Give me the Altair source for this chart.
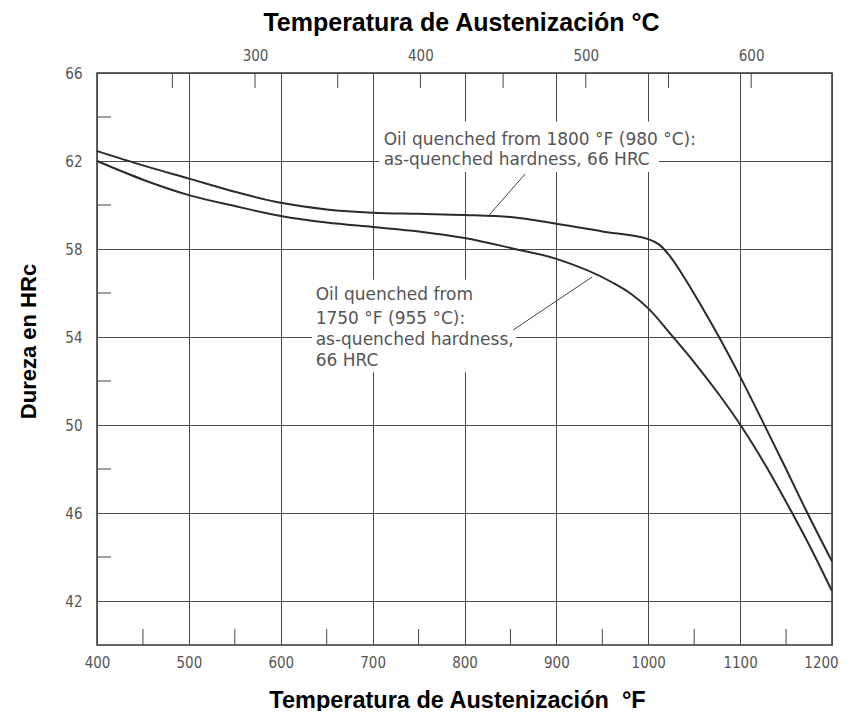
import altair as alt
import pandas as pd

# ---- data ----
upper_temp_f = [400, 450, 500, 550, 600, 650, 700, 750, 800, 850, 900, 950, 1000, 1012, 1025, 1040, 1060, 1079, 1100, 1127, 1150, 1172, 1200]
upper_hrc = [62.45, 61.8, 61.2, 60.6, 60.1, 59.8, 59.65, 59.6, 59.55, 59.45, 59.15, 58.8, 58.45, 58.2, 57.6, 56.65, 55.25, 53.85, 52.2, 49.95, 48.0, 46.1, 43.8]

lower_temp_f = [400, 450, 500, 550, 600, 650, 700, 750, 800, 850, 900, 960, 980, 1000, 1027, 1050, 1075, 1102, 1130, 1154, 1180, 1200]
lower_hrc = [62.0, 61.15, 60.45, 59.95, 59.5, 59.2, 59.0, 58.8, 58.5, 58.05, 57.55, 56.5, 56.0, 55.3, 54.0, 52.85, 51.5, 49.9, 48.0, 46.2, 44.15, 42.45]

series_names = ["1800 °F", "1750 °F"]

x_ticks_f = [400, 500, 600, 700, 800, 900, 1000, 1100, 1200]
x_minor_f = [450, 550, 650, 750, 850, 950, 1050, 1150]
y_ticks_hrc = [42, 46, 50, 54, 58, 62, 66]
y_minor_hrc = [44, 48, 52, 56, 60, 64]
top_ticks_c = [250, 300, 350, 400, 450, 500, 550, 600]

upper_note = ["Oil quenched from 1800 °F (980 °C):", "as-quenched hardness, 66 HRC"]
lower_note = ["Oil quenched from", "1750 °F (955 °C):", "as-quenched hardness,", "66 HRC"]

# ---- tables ----
curves = pd.DataFrame({
    "temp": upper_temp_f + lower_temp_f,
    "hrc": upper_hrc + lower_hrc,
    "series": [series_names[0]] * len(upper_temp_f) + [series_names[1]] * len(lower_temp_f),
})
top_df = pd.DataFrame({"c": top_ticks_c})
top_df["temp_f"] = top_df["c"] * 9 / 5 + 32
bottom_minor = pd.DataFrame({"temp": x_minor_f})
left_minor = pd.DataFrame({"hrc": y_minor_hrc})

notes = pd.DataFrame({
    "temp": [712] * 2 + [638] * 4,
    "hrc": [62.95, 62.05, 55.9, 54.8, 53.86, 52.93],
    "text": upper_note + lower_note,
})
boxes = pd.DataFrame({
    "x1": [707, 634], "x2": [1012, 856],
    "y1": [61.5, 52.4], "y2": [63.8, 56.6],
})
leaders = pd.DataFrame({
    "x1": [866, 853], "x2": [827, 939],
    "y1": [61.41, 54.32], "y2": [59.55, 56.73],
})

xs = alt.Scale(domain=[400, 1200], nice=False, zero=False)
ys = alt.Scale(domain=[40, 66], nice=False, zero=False)

LBL = "Liberation Sans Narrow, DejaVu Sans Condensed, sans-serif"
TTL = "Liberation Sans, Arial, sans-serif"
GRAY = "#555555"
INK = "#2b2b2b"

bottom_axis = alt.Axis(
    orient="bottom", values=x_ticks_f, grid=True, gridColor="#4a4a4a", gridWidth=1,
    ticks=False, domain=False, labelPadding=10, labelFont=LBL, labelFontSize=15,
    labelColor=GRAY, format="d", labelFlush=False, labelOverlap=False,
    labelOffset={"condition": {"test": "datum.value == 1200", "value": -11}, "value": 0},
    title="Temperatura de Austenización \u00a0°F", titleFont=TTL, titleFontSize=23.5,
    titleFontWeight="bold", titleColor="black", titleX=360, titleY=55,
    titleAlign="center", titleBaseline="middle",
)
left_axis = alt.Axis(
    values=y_ticks_hrc, grid=True, gridColor="#4a4a4a", gridWidth=1, ticks=False,
    domain=False, labelPadding=15, labelFont=LBL, labelFontSize=15, labelColor=GRAY,
    labelFlush=False, labelOverlap=False,
    title="Dureza en HRc", titleFont=TTL, titleFontSize=22, titleFontWeight="bold",
    titleColor="black", titleAngle=270, titleX=-69, titleY=268,
    titleAlign="center", titleBaseline="middle",
)
top_axis = alt.Axis(
    orient="top", values=list(top_df["temp_f"]), grid=False, ticks=False, domain=False,
    labelPadding=10, labelFont=LBL, labelFontSize=15, labelColor=GRAY,
    labelFlush=False, labelOverlap=False,
    labelExpr="round((datum.value-32)*5/9) % 100 == 0 ? format(round((datum.value-32)*5/9), 'd') : ''",
    title="Temperatura de Austenización °C", titleFont=TTL, titleFontSize=25,
    titleFontWeight="bold", titleColor="black", titleX=364, titleY=-51,
    titleAlign="center", titleBaseline="middle",
)

box_layer = alt.Chart(boxes).mark_rect(color="white").encode(
    x=alt.X("x1:Q", scale=xs, axis=None), x2="x2:Q",
    y=alt.Y("y1:Q", scale=ys, axis=None), y2="y2:Q",
)

lines = alt.Chart(curves).mark_line(color=INK, strokeWidth=2, interpolate="monotone").encode(
    x=alt.X("temp:Q", scale=xs, axis=bottom_axis),
    y=alt.Y("hrc:Q", scale=ys, axis=left_axis),
    detail="series:N",
)

top_ticks = alt.Chart(top_df).mark_rule(color="#444444", strokeWidth=1).encode(
    x=alt.X("temp_f:Q", scale=xs, axis=top_axis),
    y=alt.value(0), y2=alt.value(15),
)

bottom_ticks = alt.Chart(bottom_minor).mark_rule(color="#444444", strokeWidth=1).encode(
    x=alt.X("temp:Q", scale=xs, axis=None),
    y=alt.value(572), y2=alt.value(556),
)

left_ticks = alt.Chart(left_minor).mark_rule(color="#444444", strokeWidth=1).encode(
    y=alt.Y("hrc:Q", scale=ys, axis=None),
    x=alt.value(0), x2=alt.value(14),
)

leader_layer = alt.Chart(leaders).mark_rule(color="#444444", strokeWidth=1).encode(
    x=alt.X("x1:Q", scale=xs, axis=None), x2="x2:Q",
    y=alt.Y("y1:Q", scale=ys, axis=None), y2="y2:Q",
)

note_layer = alt.Chart(notes).mark_text(
    align="left", baseline="middle", font="DejaVu Sans", fontSize=17, color=GRAY
).encode(
    x=alt.X("temp:Q", scale=xs, axis=None),
    y=alt.Y("hrc:Q", scale=ys, axis=None),
    text="text:N",
)

chart = alt.layer(
    box_layer, lines, top_ticks, bottom_ticks, left_ticks, leader_layer, note_layer
).resolve_axis(x="independent", y="independent").properties(
    width=735, height=572,
    autosize=alt.AutoSizeParams(type="none"),
    padding={"left": 89, "top": 65, "right": 11, "bottom": 66},
    background="white",
).configure_view(stroke="#333333", strokeWidth=1.5)

chart.save("out.html", embed_options={"renderer": "svg", "actions": False})
